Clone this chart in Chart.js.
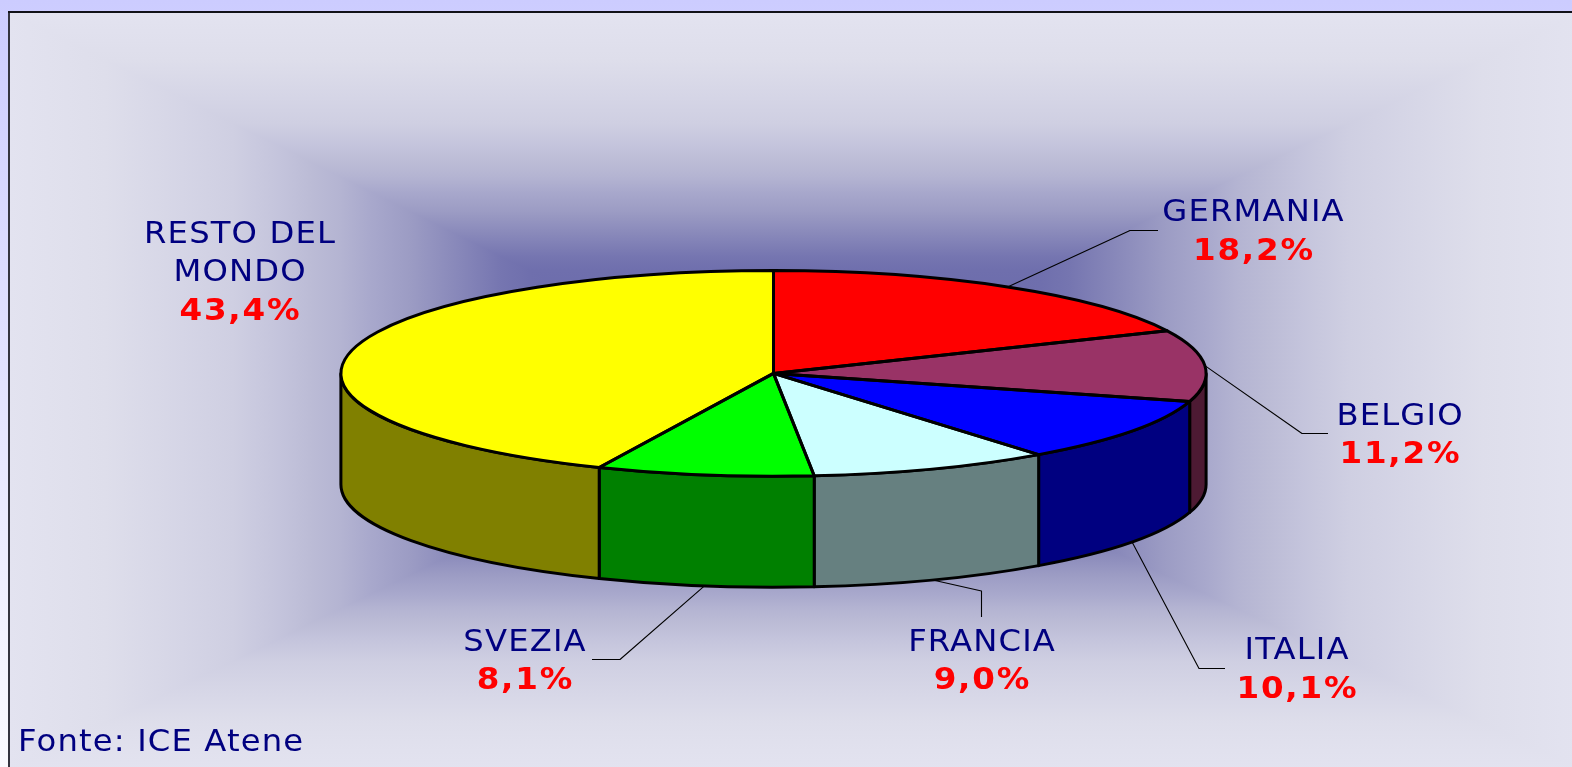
<!DOCTYPE html>
<html><head><meta charset="utf-8">
<script src="https://cdn.jsdelivr.net/npm/chart.js@4"></script>
<style>html,body{margin:0;padding:0;height:100%;overflow:hidden}body{background:linear-gradient(#CCCCFF,#FAFAFF)}canvas{display:block}</style>
</head><body>
<canvas id="c" width="1572" height="767"></canvas>
<script>
const categories = ["GERMANIA","BELGIO","ITALIA","FRANCIA","SVEZIA","RESTO DEL MONDO"];
const values = [18.2,11.2,10.1,9.0,8.1,43.4];
const sliceColors = ["#FF0000","#993366","#0000FF","#CCFFFF","#00FF00","#FFFF00"];
const wallColors = ["#800000","#4D1A33","#000080","#668080","#008000","#808000"];
const source = "Fonte: ICE Atene";

// Layout
const W=1572,H=767,FX=9,FY=12;
const CX=773.5,CY=373.4,RX=432.6,RY=102.8,DEPTH=111;
const labelLayout=[
 {x:1253,lines:["GERMANIA"],base:221,pct:260,leader:[[1130,230.5],[1158,230.5]]},
 {x:1399.5,lines:["BELGIO"],base:424.5,pct:462.5,leader:[[1302,433.5],[1328,433.5]]},
 {x:1296.5,lines:["ITALIA"],base:659,pct:697.5,leader:[[1199,668.5],[1225,668.5]]},
 {x:981.5,lines:["FRANCIA"],base:651,pct:689,leader:[[981.5,591],[981.5,617]]},
 {x:524.5,lines:["SVEZIA"],base:651,pct:689,leader:[[620,659.5],[592,659.5]]},
 {x:239.5,lines:["RESTO DEL","MONDO"],base:243,pct:319.5,leader:null}
];
const bgStops=[[0,"#5f5fa6"],[0.325,"#6f6fad"],[0.36,"#7575b0"],[0.48,"#9c9cc4"],[0.53,"#a8a8cc"],[0.57,"#b4b4d2"],[0.61,"#bcbcd6"],[0.65,"#c4c4dc"],[0.71,"#cfcfe2"],[0.775,"#d5d5e6"],[0.875,"#dedeeb"],[1,"#e3e3f0"]];
const GX=780,GY=395;

function drawBackground(ctx){
  ctx.save();
  const L=FX,T=FY,R=W+10,B=H+3;
  const grad=(x0,y0,x1,y1)=>{const g=ctx.createLinearGradient(x0,y0,x1,y1);bgStops.forEach(s=>g.addColorStop(s[0],s[1]));return g;};
  ctx.fillStyle=grad(GX,GY,GX,T);ctx.fillRect(L,T,W,GY-T);
  ctx.fillStyle=grad(GX,GY,GX,B);ctx.fillRect(L,GY,W,H);
  const tri=(g,px)=>{ctx.fillStyle=g;ctx.beginPath();ctx.moveTo(GX,GY);ctx.lineTo(px,T);ctx.lineTo(px,B);ctx.closePath();ctx.fill();};
  tri(grad(GX,GY,R,GY),R);
  tri(grad(GX,GY,L,GY),L);
  ctx.lineWidth=2;
  ctx.strokeStyle="#343440";
  ctx.beginPath();ctx.moveTo(FX,FY);ctx.lineTo(FX,H+2);ctx.stroke();
  ctx.strokeStyle="#111118";
  ctx.beginPath();ctx.moveTo(W+2,FY);ctx.lineTo(FX-1,FY);ctx.stroke();
  ctx.restore();
}
const norm=a=>{a%=2*Math.PI;return a<0?a+2*Math.PI:a;};

function wallSegments(arc){
  const out=[];
  for(const k of [-2,0,2]){
    const a0=Math.max(arc.startAngle,k*Math.PI),a1=Math.min(arc.endAngle,(k+1)*Math.PI);
    if(a1>a0)out.push([a0,a1]);
  }
  return out;
}
function stretchedText(ctx,t,x,y,sx,sp,align){
  ctx.save();
  ctx.textAlign=align;
  ctx.letterSpacing=sp+"px";
  ctx.translate(x+(align==="center"?sp*sx/2:0),y);
  ctx.scale(sx,1);
  ctx.fillText(t,0,0);
  ctx.restore();
}
const pie3d={
  id:"pie3d",
  beforeDraw(chart){drawBackground(chart.ctx);},
  beforeDatasetsDraw(chart){
    const ctx=chart.ctx,arcs=chart.getDatasetMeta(0).data;
    ctx.save();ctx.lineWidth=3;ctx.lineJoin="round";ctx.strokeStyle="#000";
    const k=RY/RX;
    arcs.forEach((arc,i)=>{
      for(const [a0,a1] of wallSegments(arc)){
        ctx.beginPath();
        ctx.ellipse(arc.x,arc.y,arc.outerRadius,arc.outerRadius*k,0,a0,a1);
        ctx.ellipse(arc.x,arc.y+DEPTH,arc.outerRadius,arc.outerRadius*k,0,a1,a0,true);
        ctx.closePath();
        ctx.fillStyle=wallColors[i];ctx.fill();ctx.stroke();
      }
    });
    ctx.restore();
  },
  beforeDatasetDraw(chart){
    const ctx=chart.ctx;ctx.save();
    ctx.translate(CX,CY);ctx.scale(1,RY/RX);ctx.translate(-CX,-CY);
  },
  afterDatasetDraw(chart){chart.ctx.restore();},
  afterDatasetsDraw(chart){
    const ctx=chart.ctx,arcs=chart.getDatasetMeta(0).data,k=RY/RX;
    ctx.save();ctx.lineWidth=3;ctx.lineJoin="round";ctx.strokeStyle="#000";
    arcs.forEach(arc=>{
      ctx.beginPath();ctx.moveTo(arc.x,arc.y);
      ctx.ellipse(arc.x,arc.y,arc.outerRadius,arc.outerRadius*k,0,arc.startAngle,arc.endAngle);
      ctx.closePath();ctx.stroke();
    });
    ctx.lineWidth=1.1;ctx.strokeStyle="#000";
    arcs.forEach((arc,i)=>{
      const l=labelLayout[i];if(!l.leader)return;
      const m=(arc.startAngle+arc.endAngle)/2;
      const c=norm(m);
      let ax=arc.x+arc.outerRadius*Math.cos(m),ay=arc.y+arc.outerRadius*k*Math.sin(m);
      if(c>0&&c<Math.PI)ay+=DEPTH;
      ctx.beginPath();ctx.moveTo(ax,ay);
      l.leader.forEach(p=>ctx.lineTo(p[0],p[1]));ctx.stroke();
    });
    ctx.textBaseline="alphabetic";
    values.forEach((v,i)=>{
      const l=labelLayout[i];
      ctx.font='31px "DejaVu Sans"';ctx.fillStyle="#000080";
      l.lines.forEach((t,j)=>stretchedText(ctx,t,l.x,l.base+j*38.2,1.04,1.1,"center"));
      ctx.font='bold 31px "DejaVu Sans"';ctx.fillStyle="#FF0000";
      stretchedText(ctx,v.toFixed(1).replace(".",",")+"%",l.x,l.pct,1.05,1.7,"center");
    });
    ctx.font='31px "DejaVu Sans"';ctx.fillStyle="#000080";
    stretchedText(ctx,source,18,751,1.04,1.1,"left");
    ctx.restore();
  }
};
new Chart(document.getElementById("c"),{
  type:"pie",
  data:{labels:categories,datasets:[{data:values,backgroundColor:sliceColors,borderWidth:0,radius:RX,clip:false}]},
  options:{responsive:false,animation:false,events:[],
    layout:{padding:{left:0,top:0,right:W-2*CX,bottom:H-2*CY}},
    plugins:{legend:{display:false},tooltip:{enabled:false},title:{display:false}}},
  plugins:[pie3d]
});
</script>
</body></html>
